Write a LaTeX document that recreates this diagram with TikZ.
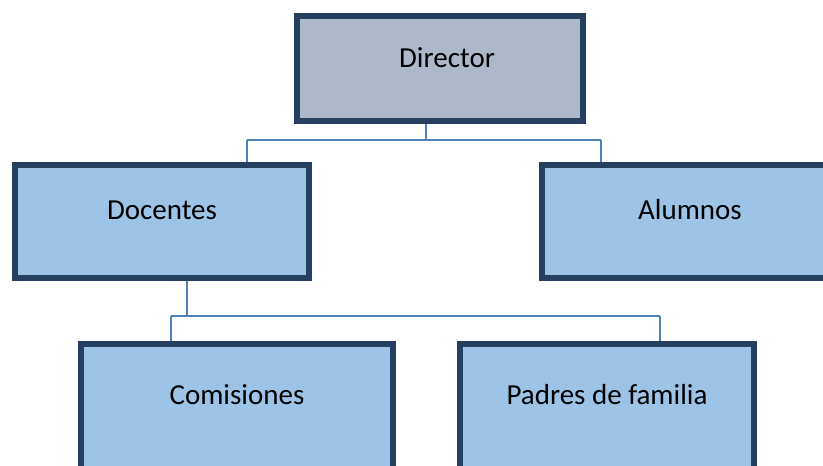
\documentclass[tikz,border=0pt]{standalone}
\usepackage{fontspec}
\setmainfont{Carlito}
\definecolor{navy}{HTML}{243F60}
\definecolor{boxblue}{HTML}{9DC3E6}
\definecolor{boxgray}{HTML}{ADB9CA}
\definecolor{connblue}{HTML}{4F81BD}
\begin{document}
\begin{tikzpicture}[x=1pt,y=-1pt,
  orgbox/.style={draw=navy,line width=6pt,fill=boxblue,rectangle,inner sep=0pt},
  conn/.style={draw=connblue,line width=1.6pt},
  lbl/.style={font=\fontsize{29}{34}\selectfont,inner sep=0pt,anchor=center}]
\useasboundingbox (0,0) rectangle (823,466);
\clip (0,0) rectangle (823,466);
\fill[white] (0,0) rectangle (823,466);
% boxes (centerline geometry)
\node[orgbox,fill=boxgray,minimum width=286pt,minimum height=105pt] (dir) at (440,68.5) {};
\node[orgbox,minimum width=294pt,minimum height=113pt] (doc) at (162,221.5) {};
\node[orgbox,minimum width=294pt,minimum height=113pt] (alu) at (689,221.5) {};
\node[orgbox,minimum width=312pt,minimum height=160pt] (com) at (237,424) {};
\node[orgbox,minimum width=294pt,minimum height=160pt] (pad) at (607,424) {};
% labels
\node[lbl] (dirt) at (447,58) {Director};
\node[lbl] (doct) at (162,210) {Docentes};
\node[lbl] (alut) at (690,210) {Alumnos};
\node[lbl] (comt) at (237,395) {Comisiones};
\node[lbl] (padt) at (607,395) {Padres de familia};
% connector coordinates
\coordinate (j1) at (426,140);
\coordinate (l1) at (247,140);
\coordinate (r1) at (601,140);
\coordinate (j2) at (187,316);
\coordinate (l2) at (171,316);
\coordinate (r2) at (660,316);
% connectors
\draw[conn] (dir.south -| j1) -- (j1);
\draw[conn] (l1) -- (r1);
\draw[conn] (l1) -- (doc.north -| l1);
\draw[conn] (r1) -- (alu.north -| r1);
\draw[conn] (doc.south -| j2) -- (j2);
\draw[conn] (l2) -- (r2);
\draw[conn] (l2) -- (com.north -| l2);
\draw[conn] (r2) -- (pad.north -| r2);
\end{tikzpicture}
\end{document}
